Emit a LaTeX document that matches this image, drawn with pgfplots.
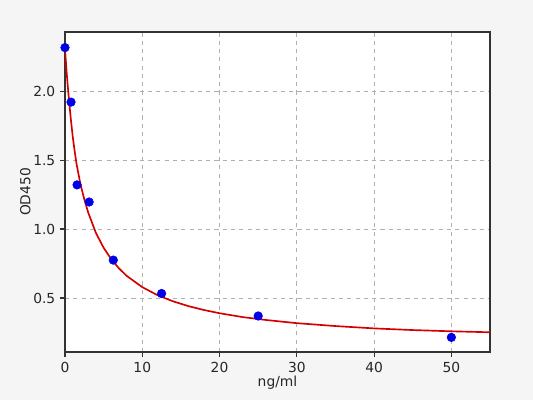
\documentclass[border=0pt]{standalone}
\usepackage{pgfplots}
\pgfplotsset{compat=1.18}
\usepackage{fontspec}
\setmainfont{DejaVu Sans}
\usetikzlibrary{backgrounds}
\definecolor{figbg}{HTML}{F5F5F5}
\definecolor{gridgray}{HTML}{B0B0B0}
\definecolor{fitred}{HTML}{D40000}
\definecolor{ptblue}{HTML}{0000E8}
\begin{document}
\begin{tikzpicture}[x=1in,y=1in]
\begin{axis}[
  at={(0,0)}, anchor=south west,
  scale only axis,
  width=4.25in, height=3.2in,
  xmin=0, xmax=55,
  ymin=0.109, ymax=2.428,
  xtick={0,10,20,30,40,50},
  ytick={0.5,1.0,1.5,2.0},
  yticklabel style={/pgf/number format/.cd,fixed,fixed zerofill,precision=1},
  /pgf/number format/assume math mode=true,
  tick align=outside,
  tick pos=left,
  major tick length=3.5pt,
  tick style={black!80, line width=0.8pt},
  axis line style={black!80, line width=0.8pt},
  grid=major,
  grid style={gridgray, dashed, line width=0.6pt},
  axis background/.style={fill=white},
  ticklabel style={font=\fontsize{10}{12}\selectfont, text=black!85},
  xlabel={ng/ml}, ylabel={OD450},
  label style={font=\fontsize{10}{12}\selectfont, text=black!85},
  xlabel style={yshift=4pt},
  ylabel style={yshift=-5pt},
  clip=true,
]
\addplot[fitred, line width=1.2pt, no marks] coordinates {
  (0,2.31) (0.1,2.226) (0.2,2.147) (0.3,2.075) (0.5,1.945) (0.75,1.800)
  (1.0,1.670) (1.25,1.565) (1.5,1.470) (2.0,1.325) (2.5,1.215) (3.0,1.120)
  (4.0,0.972) (5.0,0.864) (6.0,0.780) (7.0,0.714) (8.0,0.660) (10,0.579)
  (12,0.520) (14,0.476) (16,0.441) (18,0.413) (20,0.390) (23,0.362)
  (26,0.341) (30,0.318) (35,0.297) (40,0.280) (45,0.268) (50,0.259) (55,0.252)
};
\addplot[only marks, mark=*, mark size=3.1pt, ptblue, mark options={draw=ptblue, fill=ptblue}] coordinates {
  (0,2.315) (0.78,1.92) (1.56,1.32) (3.125,1.196) (6.25,0.775)
  (12.5,0.533) (25,0.37) (50,0.215)
};
\end{axis}
\begin{scope}[on background layer]
\fill[figbg] (-0.65,-0.48) rectangle (4.68,3.52);
\end{scope}
\end{tikzpicture}
\end{document}
